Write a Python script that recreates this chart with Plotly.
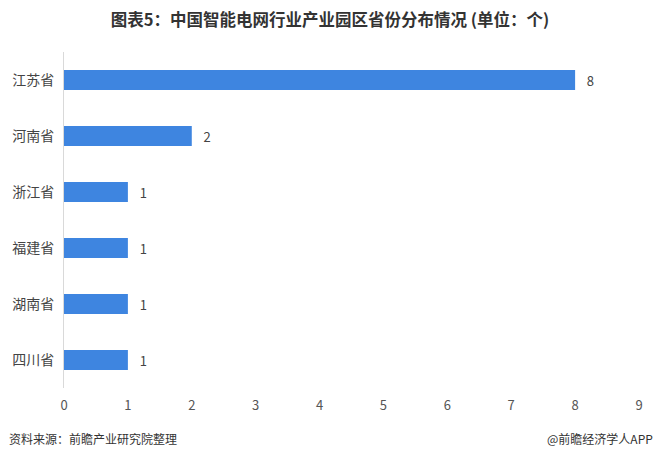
import plotly.graph_objects as go

categories = ["江苏省", "河南省", "浙江省", "福建省", "湖南省", "四川省"]
values = [8, 2, 1, 1, 1, 1]
x_ticks = [0, 1, 2, 3, 4, 5, 6, 7, 8, 9]

font_family = "Noto Sans CJK SC, Noto Sans, sans-serif"

fig = go.Figure(go.Bar(
    y=categories,
    x=values,
    orientation="h",
    marker=dict(color="#3E85E0", line=dict(width=0)),
    texttemplate="   %{x}",
    textposition="outside",
    textfont=dict(size=13, color="#444444", family=font_family),
    cliponaxis=False,
))

fig.update_layout(
    width=660, height=460,
    margin=dict(l=64, r=21, t=52, b=72, autoexpand=False),
    paper_bgcolor="white", plot_bgcolor="white",
    bargap=0.64,
    showlegend=False,
    font=dict(family=font_family, color="#444444"),
    title=dict(
        text="<b>图表5：中国智能电网行业产业园区省份分布情况 (单位：个)</b>",
        x=0.5, xanchor="center", y=0.955, yanchor="middle",
        font=dict(size=16.5, color="#333333", family=font_family),
    ),
    xaxis=dict(
        range=[0, 9], tickvals=x_ticks, showgrid=False, zeroline=False,
        showline=False, ticks="", tickfont=dict(size=13, color="#555555"),
        ticklabelstandoff=8, automargin=False,
    ),
    yaxis=dict(
        autorange="reversed", showgrid=False, zeroline=False,
        showline=True, linecolor="#D9D9D9", linewidth=1, ticks="",
        tickfont=dict(size=14, color="#444444"), ticklabelstandoff=6,
        automargin=False,
    ),
    annotations=[
        dict(text="资料来源：前瞻产业研究院整理", xref="paper", yref="paper",
             x=-57/575, y=-50/336, xanchor="left", yanchor="middle", showarrow=False,
             font=dict(size=12, color="#333333", family=font_family)),
        dict(text="@前瞻经济学人APP", xref="paper", yref="paper",
             x=1 + 16/575, y=-50/336, xanchor="right", yanchor="middle", showarrow=False,
             font=dict(size=12, color="#333333", family=font_family)),
    ],
)

fig.write_html(
    "out.html",
    config={"displayModeBar": False},
    post_script="document.body.style.margin='0';document.body.style.padding='0';",
)
